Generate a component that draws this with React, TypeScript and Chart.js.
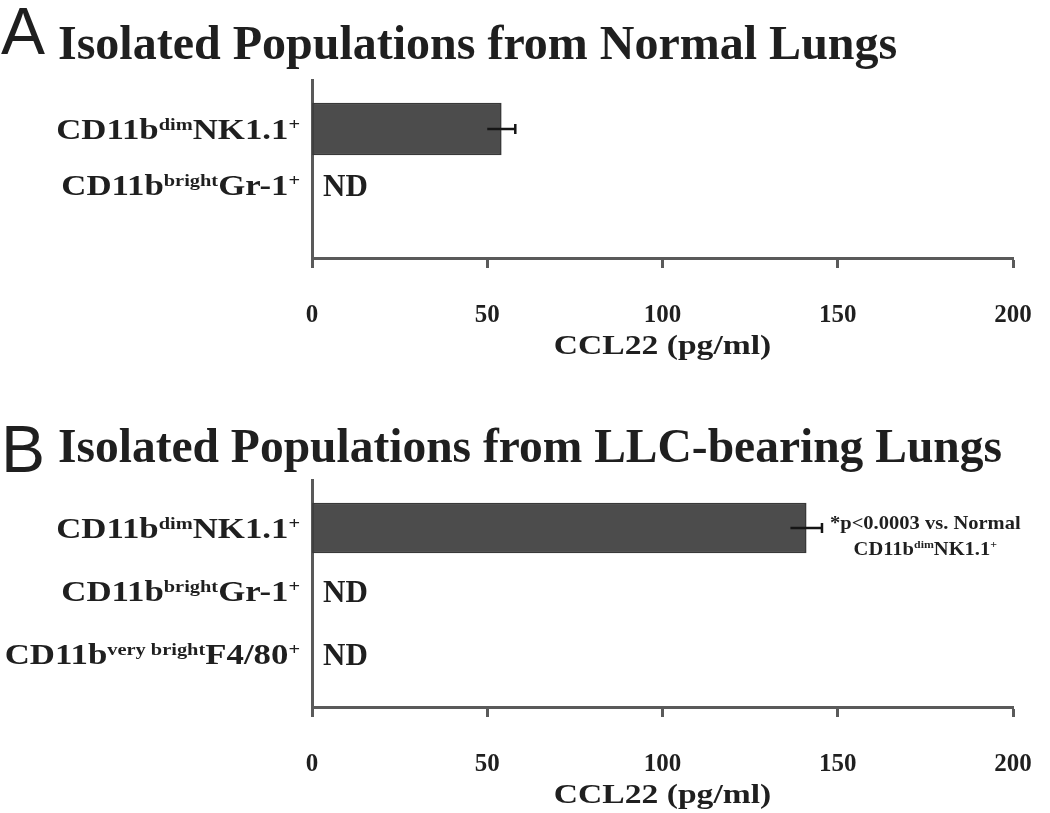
import React, { useEffect, useRef } from "react";
import { Chart, registerables } from "chart.js";

Chart.register(...registerables);

// ---------- data ----------
const labelsA = ["CD11b^{dim}NK1.1^{+}", "CD11b^{bright}Gr-1^{+}"];
const valuesA: (number | null)[] = [54, null];
const errorsA: (number | null)[] = [4, null];

const labelsB = [
  "CD11b^{dim}NK1.1^{+}",
  "CD11b^{bright}Gr-1^{+}",
  "CD11b^{very bright}F4/80^{+}",
];
const valuesB: (number | null)[] = [141, null, null];
const errorsB: (number | null)[] = [4.5, null, null];

const xTicks = [0, 50, 100, 150, 200];
const titleA = "Isolated Populations from Normal Lungs";
const titleB = "Isolated Populations from LLC-bearing Lungs";
const xTitle = "CCL22 (pg/ml)";
const ndText = "ND";
const noteB = ["*p<0.0003 vs. Normal", "CD11b^{dim}NK1.1^{+}"];

// ---------- style ----------
const FAMILY = "'Liberation Serif', 'Times New Roman', serif";
const TEXT = "#1f1f1f";
const AXIS = "#5a5a5a";
const BAR = "#4c4c4c";
const BAR_EDGE = "#383838";

type Part = { t: string; sup: boolean };

function parseRich(s: string): Part[] {
  const parts: Part[] = [];
  const re = /\^\{([^}]*)\}/g;
  let last = 0;
  let m: RegExpExecArray | null;
  while ((m = re.exec(s))) {
    if (m.index > last) parts.push({ t: s.slice(last, m.index), sup: false });
    parts.push({ t: m[1], sup: true });
    last = re.lastIndex;
  }
  if (last < s.length) parts.push({ t: s.slice(last), sup: false });
  return parts;
}

function drawRich(
  ctx: CanvasRenderingContext2D,
  s: string,
  x: number,
  baseline: number,
  align: "left" | "right" | "center",
  size: number,
  supSize: number,
  hScale: number,
  raise: number
) {
  const parts = parseRich(s);
  const fontFor = (p: Part) => `bold ${p.sup ? supSize : size}px ${FAMILY}`;
  let w = 0;
  for (const p of parts) {
    ctx.font = fontFor(p);
    w += ctx.measureText(p.t).width;
  }
  const tw = w * hScale;
  const start = align === "right" ? x - tw : align === "center" ? x - tw / 2 : x;
  ctx.save();
  ctx.translate(start, baseline);
  ctx.scale(hScale, 1);
  ctx.textAlign = "left";
  ctx.textBaseline = "alphabetic";
  ctx.fillStyle = TEXT;
  let cx = 0;
  for (const p of parts) {
    ctx.font = fontFor(p);
    ctx.fillText(p.t, cx, p.sup ? -raise : 0);
    cx += ctx.measureText(p.t).width;
  }
  ctx.restore();
  return tw;
}

const decorPlugin = {
  id: "panelDecor",
  afterDatasetsDraw(chart: any, _args: any, opts: any) {
    const ctx: CanvasRenderingContext2D = chart.ctx;
    const xs = chart.scales.x;
    const ys = chart.scales.y;
    const area = chart.chartArea;
    const labels: string[] = opts.labels;
    const values: (number | null)[] = opts.values;
    const errors: (number | null)[] = opts.errors;
    ctx.save();
    drawRich(ctx, xTitle, (area.left + area.right) / 2, area.bottom + 96, "center", 28, 18, 1.2, 0);
    labels.forEach((lab, i) => {
      const yc = ys.getPixelForValue(i);
      drawRich(ctx, lab, area.left - 12, yc + 10, "right", 29, 17, 1.2, 9);
      const v = values[i];
      if (v == null) {
        ctx.font = `bold 31px ${FAMILY}`;
        ctx.fillStyle = TEXT;
        ctx.textAlign = "left";
        ctx.textBaseline = "alphabetic";
        ctx.fillText(ndText, xs.getPixelForValue(0) + 11, yc + 11);
      } else {
        const e = errors[i];
        if (e != null) {
          const x0 = xs.getPixelForValue(v - e);
          const x1 = xs.getPixelForValue(v + e);
          ctx.strokeStyle = "#151515";
          ctx.lineWidth = 2.5;
          ctx.beginPath();
          ctx.moveTo(x0, yc);
          ctx.lineTo(x1, yc);
          ctx.moveTo(x1, yc - 5);
          ctx.lineTo(x1, yc + 5);
          ctx.stroke();
          if (opts.note) {
            const nx = x1 + 8;
            const w1 = drawRich(ctx, opts.note[0], nx, yc + 0.5, "left", 19, 11, 1.08, 7);
            drawRich(ctx, opts.note[1], nx + w1 / 2, yc + 27, "center", 19, 11, 1.08, 7);
          }
        }
      }
    });
    ctx.restore();
  },
};

function makeConfig(
  labels: string[],
  values: (number | null)[],
  errors: (number | null)[],
  title: string,
  titleSize: number,
  titlePadTop: number,
  yMin: number,
  yMax: number,
  barThickness: number,
  note: string[] | null
): any {
  const points = values
    .map((v, i) => (v == null ? null : { x: v, y: i }))
    .filter((p) => p !== null);
  return {
    type: "bar",
    data: {
      datasets: [
        {
          data: points,
          backgroundColor: BAR,
          borderColor: BAR_EDGE,
          borderWidth: 1.5,
          borderSkipped: false,
          barThickness,
        },
      ],
    },
    options: {
      indexAxis: "y",
      animation: false,
      responsive: false,
      maintainAspectRatio: false,
      layout: { padding: { left: 58, right: 37, top: 0, bottom: 0 } },
      plugins: {
        legend: { display: false },
        tooltip: { enabled: false },
        title: {
          display: true,
          text: title,
          align: "start",
          color: TEXT,
          font: { family: FAMILY, size: titleSize, weight: "bold", lineHeight: 1 },
          padding: { top: titlePadTop, bottom: 80 - titleSize - titlePadTop },
        },
        panelDecor: { labels, values, errors, note },
      },
      scales: {
        x: {
          type: "linear",
          min: 0,
          max: 200,
          afterBuildTicks: (s: any) => {
            s.ticks = xTicks.map((v) => ({ value: v }));
          },
          afterFit: (s: any) => {
            s.height = 103;
            s.paddingLeft = 0;
            s.paddingRight = 0;
          },
          grid: {
            display: true,
            drawOnChartArea: false,
            drawTicks: true,
            tickLength: 10,
            tickWidth: 3,
            tickColor: AXIS,
          },
          border: { display: true, width: 3, color: AXIS },
          ticks: {
            color: TEXT,
            font: { family: FAMILY, size: 25, weight: "bold" },
            padding: 33,
            maxRotation: 0,
            autoSkip: false,
          },
          title: { display: false },
        },
        y: {
          type: "linear",
          reverse: true,
          offset: false,
          min: yMin,
          max: yMax,
          afterBuildTicks: (s: any) => {
            s.ticks = labels.map((_, i) => ({ value: i }));
          },
          afterFit: (s: any) => {
            s.width = 254;
          },
          grid: { display: true, offset: false, drawOnChartArea: false, drawTicks: false },
          border: { display: true, width: 3, color: AXIS },
          ticks: { display: false },
        },
      },
    },
    plugins: [decorPlugin],
  };
}

function Panel(props: { config: any; top: number; height: number }) {
  const ref = useRef<HTMLCanvasElement>(null);
  useEffect(() => {
    if (!ref.current) return;
    const chart = new Chart(ref.current, props.config);
    return () => chart.destroy();
  }, []);
  return (
    <canvas
      ref={ref}
      width={1050}
      height={props.height}
      style={{ position: "absolute", left: 0, top: props.top, width: 1050, height: props.height, display: "block" }}
    />
  );
}

const letterStyle: React.CSSProperties = {
  position: "absolute",
  left: 1,
  fontFamily: "'Liberation Sans', Arial, sans-serif",
  fontSize: 66,
  lineHeight: "66px",
  color: TEXT,
};

export default function App() {
  const cfgA = makeConfig(labelsA, valuesA, errorsA, titleA, 48, 23, -0.875, 2.304, 52, null);
  const cfgB = makeConfig(labelsB, valuesB, errorsB, titleB, 47.5, 26, -0.762, 2.841, 50, noteB);
  return (
    <div style={{ position: "absolute", left: 0, top: 0, width: 1050, height: 813, background: "#fff", overflow: "hidden" }}>
      <Panel config={cfgA} top={0} height={361} />
      <Panel config={cfgB} top={400} height={410} />
      <div style={{ ...letterStyle, top: -2 }}>A</div>
      <div style={{ ...letterStyle, top: 416 }}>B</div>
    </div>
  );
}
